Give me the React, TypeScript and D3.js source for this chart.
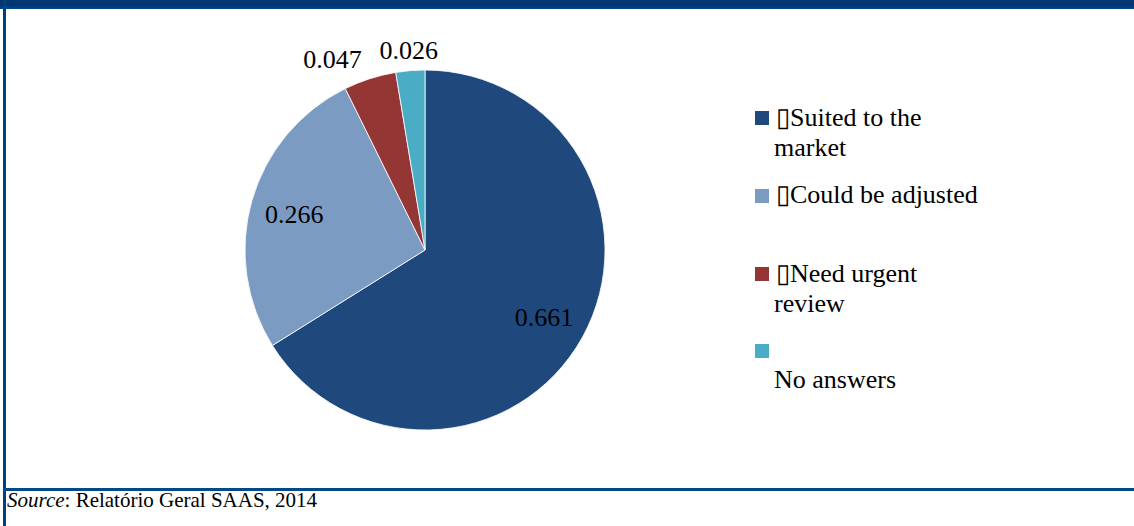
import React from "react";
import * as d3 from "d3";

const categories = ["Suited to the market", "Could be adjusted", "Need urgent review", "No answers"];
const values = [0.661, 0.266, 0.047, 0.026];
const valueLabels = ["0.661", "0.266", "0.047", "0.026"];
const colors = ["#1F497D", "#7B9BC2", "#943634", "#4BACC6"];
const legendLines = [["\u25AFSuited to the", "market"], ["\u25AFCould be adjusted"], ["\u25AFNeed urgent", "review"], ["", "No answers"]];

const W = 1134;
const H = 526;
const cx = 425;
const cy = 250;
const R = 180;

const serif = '"Liberation Serif", "Times New Roman", Times, serif';

export default function App() {
  const pie = d3.pie<number>().sort(null).value((d) => d)(values);
  const arc = d3.arc<d3.PieArcDatum<number>>().innerRadius(0).outerRadius(R);
  const innerLabel = d3.arc<d3.PieArcDatum<number>>().innerRadius(136).outerRadius(136);
  const outerLabel = d3.arc<d3.PieArcDatum<number>>().innerRadius(200).outerRadius(200);

  const legendY = [126, 203, 282, 358];
  const legendSqY = [111, 189, 267, 344];

  return (
    <svg width={W} height={H} style={{ position: "absolute", left: 0, top: 0, background: "#fff", fontFamily: serif }}>
      <defs>
        <linearGradient id="band" x1="0" y1="0" x2="0" y2="1">
          <stop offset="0" stopColor="#003670" />
          <stop offset="0.7" stopColor="#003a76" />
          <stop offset="1" stopColor="#004a8a" />
        </linearGradient>
      </defs>
      <rect x={0} y={0} width={W} height={9} fill="url(#band)" />
      <rect x={3} y={0} width={3} height={H} fill="#003f80" />
      <rect x={3} y={488} width={W - 3} height={3} fill="#004a8a" />

      <g transform={`translate(${cx},${cy})`}>
        {pie.map((p, i) => (
          <path key={i} d={arc(p) || ""} fill={colors[i]} stroke="#ffffff" strokeWidth={0.8} />
        ))}
        {pie.map((p, i) => {
          const big = values[i] > 0.1;
          const [x, y] = big ? innerLabel.centroid(p) : outerLabel.centroid(p);
          const anchor = !big && i === 2 ? "end" : "middle";
          return (
            <text key={i} x={anchor === "end" ? x - 2 : x} y={y} dy={big ? 2 : 0} textAnchor={anchor}
              dominantBaseline="central" fontSize={26} fill="#000" style={{ fontFamily: serif }}>
              {valueLabels[i]}
            </text>
          );
        })}
      </g>

      {categories.map((c, i) => (
        <g key={c}>
          <rect x={755} y={legendSqY[i]} width={14} height={14} fill={colors[i]} />
          <text fontSize={26} fill="#000" style={{ fontFamily: serif }}>
            {legendLines[i].map((ln, j) => (
              <tspan key={j} x={j === 0 ? 776 : 774} y={legendY[i] + j * 30}>{ln}</tspan>
            ))}
          </text>
        </g>
      ))}

      <text x={7} y={507} fontSize={21} fill="#000" style={{ fontFamily: serif }}>
        <tspan fontStyle="italic">Source</tspan>: Relatório Geral SAAS, 2014
      </text>
    </svg>
  );
}
